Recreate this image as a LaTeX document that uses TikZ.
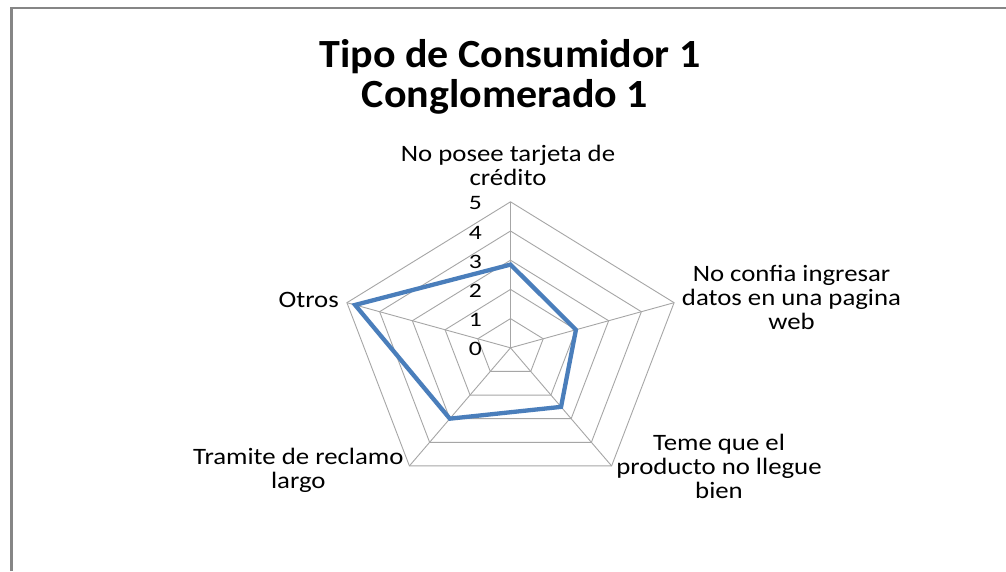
\documentclass[tikz,border=0pt]{standalone}
\usepackage{fontspec}
\setmainfont{Carlito}
\begin{document}
\begin{tikzpicture}[x=1pt,y=-1pt,
  grid/.style={draw={rgb,255:red,166;green,166;blue,166}, line width=0.9pt},
  series/.style={draw={rgb,255:red,74;green,126;blue,187}, line width=4.3pt, line join=miter},
  frame/.style={draw={rgb,255:red,134;green,134;blue,134}, line width=2.2pt},
  axlabel/.style={font=\fontsize{23.5}{23.7}\selectfont, inner sep=0pt, align=center, xscale=1.14},
  tick/.style={font=\fontsize{20.5}{20.5}\selectfont, inner sep=0pt, anchor=east, xscale=1.25},
  titlefont/.style={font=\bfseries\fontsize{40}{44}\selectfont, inner sep=0pt, xscale=1.05}]
\useasboundingbox (0,0) rectangle (1006,571);
\fill[white] (0,0) rectangle (1006,571);
\coordinate (fA) at (11.5,571);
\coordinate (fB) at (11.5,8);
\coordinate (fC) at (1006,8);
\draw[frame] (fA) -- (fB) -- (fC);
\coordinate (O) at (510.5,347.8);
\foreach \k/\a in {0/90,1/18,2/-54,3/-126,4/162}{
  \foreach \r in {1,...,5}{
    \coordinate (v\r-\k) at ({510.5+172*cos(\a)*\r/5},{347.8-146*sin(\a)*\r/5});
  }
}
\foreach \k in {0,...,4} \draw[grid] (O) -- (v5-\k);
\foreach \r in {1,...,5} \draw[grid] (v\r-0) -- (v\r-1) -- (v\r-2) -- (v\r-3) -- (v\r-4) -- cycle;
\foreach \k/\a/\val in {0/90/2.85,1/18/2.0,2/-54/2.5,3/-126/3.0,4/162/4.75}
  \coordinate (s\k) at ({510.5+172*cos(\a)*\val/5},{347.8-146*sin(\a)*\val/5});
\draw[series] (s0) -- (s1) -- (s2) -- (s3) -- (s4) -- cycle;
\foreach \r in {0,...,5} \node[tick] (tk\r) at (482,{347.8-29.2*\r+1.5}) {\r};
\node[axlabel, anchor=base] (l0) at (508,185.4) {No posee tarjeta de\\crédito};
\node[axlabel, anchor=base] (l1) at (791.5,329) {No confia ingresar\\datos en una pagina\\web};
\node[axlabel, anchor=base east] (l4) at (339,307.3) {Otros};
\node[axlabel, anchor=base] (l3) at (298.3,488) {Tramite de reclamo\\largo};
\node[axlabel, anchor=base] (l2) at (719,498) {Teme que el\\producto no llegue\\bien};
\node[titlefont, anchor=base] (ti1) at (510,67) {Tipo de Consumidor 1};
\node[titlefont, anchor=base] (ti2) at (505,107) {Conglomerado 1};
\end{tikzpicture}
\end{document}
